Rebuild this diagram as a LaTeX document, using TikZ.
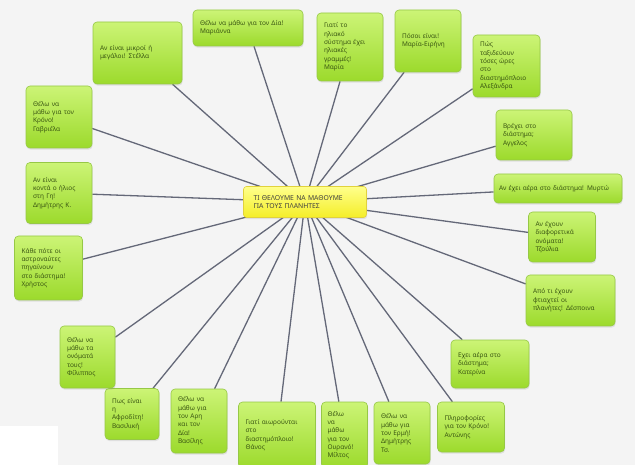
\documentclass[tikz,border=0pt]{standalone}
\usepackage{fontspec}
\setmainfont{Noto Sans}
\usepackage{tikz}
\usetikzlibrary{shadows,backgrounds}

\definecolor{leafgreen}{RGB}{156,218,44}
\definecolor{leaflight}{RGB}{204,244,118}
\definecolor{leafedge}{RGB}{150,200,70}
\definecolor{leaftext}{RGB}{58,86,18}
\definecolor{sunyellow}{RGB}{244,238,40}
\definecolor{sunlight}{RGB}{255,255,140}
\definecolor{sunedge}{RGB}{225,210,60}
\definecolor{spokegray}{RGB}{100,104,120}
\definecolor{paper}{RGB}{244,244,244}

\begin{document}
\begin{tikzpicture}[x=1pt, y=-1pt,
    idea/.style={draw=leafedge, line width=0.6pt, rounded corners=4pt,
        top color=leaflight, bottom color=leafgreen, text=leaftext,
        font=\fontsize{6.5}{8.3}\selectfont, align=left,
        inner xsep=7pt, inner ysep=2pt,
        drop shadow={opacity=0.18, shadow xshift=0.6pt, shadow yshift=-1.6pt}},
    topic/.style={draw=sunedge, line width=0.6pt, rounded corners=3pt,
        top color=sunlight, bottom color=sunyellow, text=black!75,
        font=\fontsize{6.8}{8.3}\selectfont, align=left,
        inner xsep=10pt, minimum height=31pt,
        drop shadow={opacity=0.18, shadow xshift=0.6pt, shadow yshift=-1.6pt}},
    spoke/.style={draw=spokegray, line width=1.3pt}]

    \useasboundingbox (0,0) rectangle (635,465);

    % the question in the middle
    \node[topic, text width=103pt] (ntopic) at (305,202) {ΤΙ ΘΕΛΟΥΜΕ ΝΑ ΜΑΘΟΥΜΕ\\ΓΙΑ ΤΟΥΣ ΠΛΑΝΗΤΕΣ};

    % top row
    \node[idea, text width=75pt, minimum height=62pt] (nstella) at (137.5,53) {Αν είναι μικροί ή\\μεγάλοι! Στέλλα};
    \node[idea, text width=96pt, minimum height=36pt] (nmarianna) at (248,28) {Θέλω να μάθω για τον Δία!\\Μαριάννα};
    \node[idea, text width=52pt, minimum height=68pt] (nmaria) at (350,47) {Γιατί το\\ηλιακό\\σύστημα έχει\\ηλιακές\\γραμμές!\\Μαρία};
    \node[idea, text width=52pt, minimum height=62pt] (neirini) at (428,41) {Πόσοι είναι!\\Μαρία-Ειρήνη};
    \node[idea, text width=53pt, minimum height=62pt] (nalexandra) at (506.5,66) {Πώς\\ταξιδεύουν\\τόσες ώρες\\στο\\διαστημόπλοιο\\Αλεξάνδρα};

    % right side
    \node[idea, text width=62pt, minimum height=50pt] (nangelos) at (534,135) {Βρέχει στο\\διάστημα;\\Αγγελος};
    \node[idea, text width=118pt, minimum height=29pt, inner xsep=5pt] (nmyrto) at (558,188.5) {Αν έχει αέρα στο διάστημα! Μυρτώ};
    \node[idea, text width=53pt, minimum height=50pt] (ntzoulia) at (562,237) {Αν έχουν\\διαφορετικά\\ονόματα!\\Τζούλια};
    \node[idea, text width=75pt, minimum height=51pt] (ndespoina) at (570.5,300.5) {Από τι έχουν\\φτιαχτεί οι\\πλανήτες! Δέσποινα};
    \node[idea, text width=64pt, minimum height=48pt] (nkaterina) at (490,364) {Εχει αέρα στο\\διάστημα;\\Κατερίνα};

    % bottom row
    \node[idea, text width=53pt, minimum height=50pt] (nantonis) at (471,427) {Πληροφορίες\\για τον Κρόνο!\\Αντώνης};
    \node[idea, text width=42pt, minimum height=62pt] (ndimts) at (402,433) {Θέλω να\\μάθω για\\τον Ερμή!\\Δημήτρης\\Τσ.};
    \node[idea, text width=34pt, minimum height=66pt, inner xsep=6pt] (nmiltos) at (344.5,435) {Θέλω\\να\\μάθω\\για τον\\Ουρανό!\\Μίλτος};
    \node[idea, text width=63pt, minimum height=66pt] (nthanos) at (277,435) {Γιατί αιωρούνται\\στο\\διαστημόπλοιο!\\Θάνος};
    \node[idea, text width=42pt, minimum height=64pt] (nvasilis) at (199,421) {Θέλω να\\μάθω για\\τον Αρη\\και τον\\Δία!\\Βασίλης};
    \node[idea, text width=40pt, minimum height=51pt] (nvasiliki) at (132,414) {Πως είναι\\η\\Αφροδίτη!\\Βασιλική};

    % left side
    \node[idea, text width=41pt, minimum height=62pt] (nfilippos) at (87.5,357) {Θέλω να\\μάθω τα\\ονόματά\\τους!\\Φίλιππος};
    \node[idea, text width=54pt, minimum height=64pt] (nchristos) at (48.5,268) {Κάθε πότε οι\\αστροναύτες\\πηγαίνουν\\στο διάστημα!\\Χρήστος};
    \node[idea, text width=52pt, minimum height=61pt] (ndimk) at (59,193) {Αν είναι\\κοντά ο ήλιος\\στη Γη!\\Δημήτρης Κ.};
    \node[idea, text width=52pt, minimum height=62pt] (ngavriela) at (59,117) {Θέλω να\\μάθω για τον\\Κρόνο!\\Γαβριέλα};

    \begin{pgfonlayer}{background}
        \fill[paper] (0,0) rectangle (635,465);
        \fill[white] (0,426) rectangle (58,465);
        \foreach \n in {nstella,nmarianna,nmaria,neirini,nalexandra,nangelos,nmyrto,ntzoulia,ndespoina,nkaterina,nantonis,ndimts,nmiltos,nthanos,nvasilis,nvasiliki,nfilippos,nchristos,ndimk,ngavriela}
            \draw[spoke] (ntopic.center) -- (\n);
    \end{pgfonlayer}
\end{tikzpicture}
\end{document}
